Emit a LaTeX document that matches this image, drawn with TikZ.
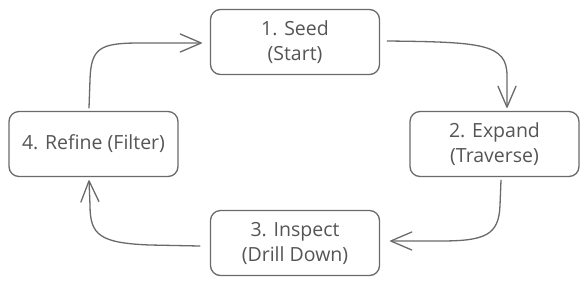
\documentclass[tikz,border=0pt]{standalone}
\usepackage{fontspec}
\setmainfont{Open Sans}
\usetikzlibrary{arrows.meta,calc}
\definecolor{strokec}{HTML}{6A6A6A}
\definecolor{textc}{HTML}{555555}
\tikzset{
  stepbox/.style={draw=strokec, line width=1.3pt, rounded corners=10pt,
    minimum width=169pt, minimum height=65pt, align=center, text=textc,
    inner sep=0pt, font=\fontsize{19.5}{25}\selectfont},
  conn/.style={draw=strokec, line width=1.3pt, line cap=round, line join=round,
    -{Straight Barb[length=21pt,width=18pt,line join=round,line cap=round]}}
}
\begin{document}
\begin{tikzpicture}[x=1pt,y=-1pt]
\useasboundingbox (0,0) rectangle (588,285);
\node[stepbox] (seed) at (295,42) {1. Seed\\(Start)};
\node[stepbox] (expand) at (494.5,144) {2. Expand\\(Traverse)};
\node[stepbox] (inspect) at (295,243) {3. Inspect\\(Drill Down)};
\node[stepbox] (refine) at (93.5,144) {4. Refine (Filter)};
% seed -> expand
\draw[conn] ($(seed.east)+(7,-1)$) .. controls +(95,1) and +(0,-32) .. ($(expand.north)+(12.5,-35)$) -- ($(expand.north)+(12.5,-3)$);
% expand -> inspect
\draw[conn] ($(expand.south)+(6.5,3)$) -- ($(expand.south)+(5.5,28)$) .. controls +(-1,30) and +(45,0) .. ($(inspect.east)+(60,-2)$) -- ($(inspect.east)+(10,-2)$);
% inspect -> refine
\draw[conn] ($(inspect.west)+(-10,3)$) -- ($(inspect.west)+(-60,2)$) .. controls +(-50,-2) and +(0,30) .. ($(refine.south)+(-3.5,28)$) -- ($(refine.south)+(-4.5,3)$);
% refine -> seed
\draw[conn] ($(refine.north)+(-4.5,-3)$) -- ($(refine.north)+(-3.5,-31)$) .. controls +(1,-32) and +(-40,0) .. ($(seed.west)+(-70,1)$) -- ($(seed.west)+(-8,1)$);
\end{tikzpicture}
\end{document}
